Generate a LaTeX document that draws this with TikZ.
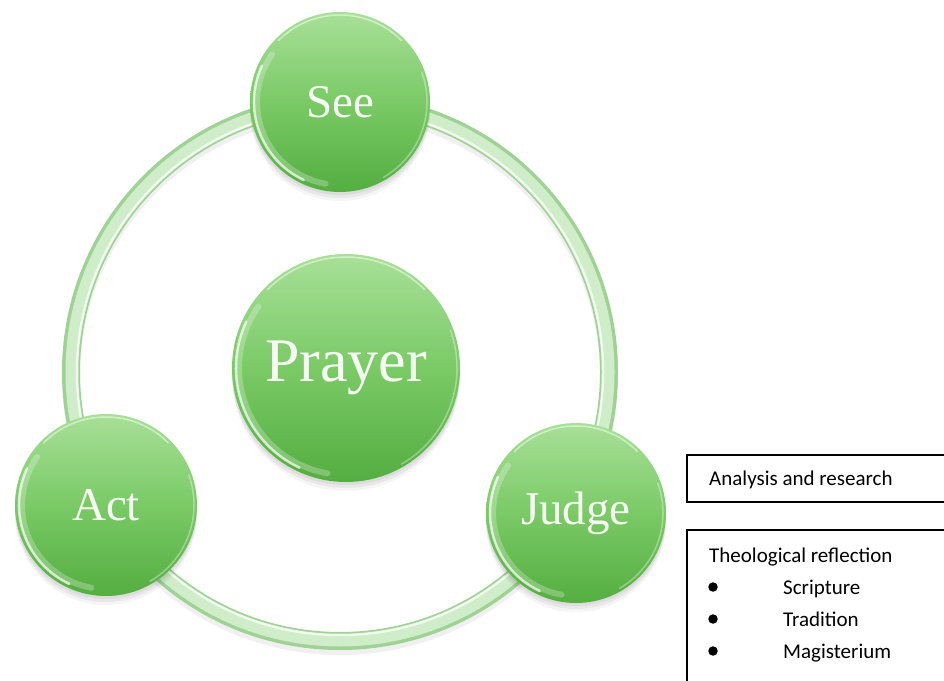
\documentclass[tikz,border=0pt]{standalone}
\usepackage{fontspec}
\setmainfont{Carlito}
\newfontfamily\ballfont{Liberation Serif}
\definecolor{balltop}{RGB}{168,224,152}
\definecolor{ballmid}{RGB}{122,202,102}
\definecolor{ballbot}{RGB}{84,174,64}
\definecolor{ringout}{RGB}{160,210,150}
\definecolor{ringin}{RGB}{206,237,200}
\definecolor{balltext}{RGB}{246,252,244}
\tikzset{
  ball/.style={circle, draw=none, inner sep=0pt,
    top color=balltop, bottom color=ballbot, middle color=ballmid,
    text=balltext, font=\ballfont\fontsize{47}{50}\selectfont,
    preaction={fill=black, opacity=0.05, transform canvas={yshift=-3pt}},
    preaction={fill=black, opacity=0.05, transform canvas={yshift=-6pt}},
    preaction={fill=black, opacity=0.04, transform canvas={yshift=-9pt}}},
  rimsoft/.style={white, line width=6pt, opacity=0.25, line cap=round},
  rimlo/.style={white, line width=2.5pt, opacity=0.7, line cap=round},
  rimhi/.style={white, line width=1.5pt, opacity=0.5, line cap=round},
  txtbox/.style={draw=black, line width=1.3pt},
  boxtext/.style={anchor=base west, inner sep=0pt, font=\fontsize{21}{24}\selectfont},
  bulletdot/.style={circle, fill=black, inner sep=0pt, minimum size=9.5pt}
}
\begin{document}
\begin{tikzpicture}[x=1pt,y=1pt]
\useasboundingbox (0,0) rectangle (944,680);
\fill[white] (0,0) rectangle (944,680);
% ring
\coordinate (ringc) at (340,308);
\draw[black, opacity=0.06, line width=18pt] ([yshift=-5pt]ringc) circle[radius=269];
\draw[ringout, line width=18pt] (ringc) circle[radius=269];
\draw[ringin, line width=12pt] (ringc) circle[radius=268.5];
\draw[white, opacity=0.75, line width=2.5pt] (ringc) circle[radius=263];
% balls
\node[ball, minimum size=228pt, font=\ballfont\fontsize{62}{66}\selectfont] (prayer) at (346,312) {Prayer};
\node[ball, minimum size=180pt] (see) at (340,578) {See};
\node[ball, minimum size=182pt] (act) at (106,175) {Act};
\node[ball, minimum size=180pt] (judge) at (576,167) {Judge};
% gloss rims
\foreach \b/\r in {prayer/110, see/86, act/87, judge/86}{
  \draw[rimsoft] ([shift={(145:\r-3)}]\b.center) arc[start angle=145, end angle=260, radius=\r-3];
  \draw[rimlo] ([shift={(155:\r)}]\b.center) arc[start angle=155, end angle=245, radius=\r];
  \draw[rimhi] ([shift={(45:\r+1)}]\b.center) arc[start angle=45, end angle=135, radius=\r+1];
  \draw[rimhi, opacity=0.35] ([shift={(-60:\r+1)}]\b.center) arc[start angle=-60, end angle=20, radius=\r+1];
}
% boxes
\draw[txtbox] (960,225) -- (687,225) -- (687,178) -- (960,178);
\node[boxtext] (analysis) at (709,194) {Analysis and research};
\draw[txtbox] (960,150) -- (687,150) -- (687,-20);
\node[boxtext] (theo) at (709,118) {Theological reflection};
\node[bulletdot] (b1) at (713,93) {};
\node[bulletdot] (b2) at (713,61) {};
\node[bulletdot] (b3) at (713,29) {};
\node[boxtext] (scripture) at (783,86) {Scripture};
\node[boxtext] (tradition) at (783,54) {Tradition};
\node[boxtext] (magisterium) at (783,22) {Magisterium};
\end{tikzpicture}
\end{document}
